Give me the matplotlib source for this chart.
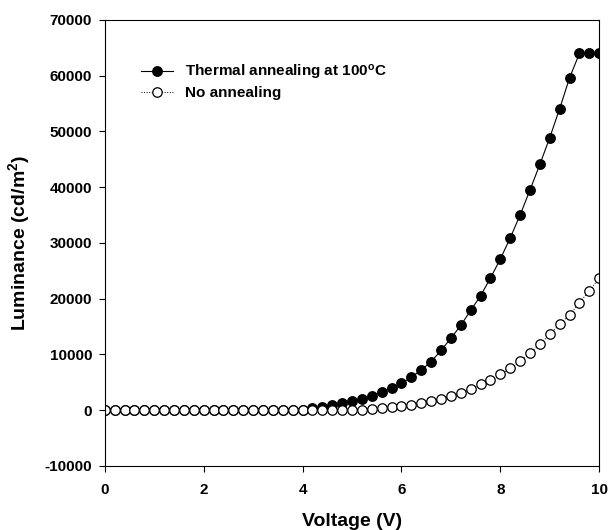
import numpy as np
import matplotlib
matplotlib.use('Agg')
import matplotlib.pyplot as plt

plt.rcParams['font.family'] = 'Liberation Sans'
plt.rcParams['font.weight'] = 'bold'
plt.rcParams['axes.unicode_minus'] = False
plt.rcParams['mathtext.fontset'] = 'custom'
plt.rcParams['mathtext.rm'] = 'Liberation Sans:bold'
plt.rcParams['mathtext.bf'] = 'Liberation Sans:bold'
plt.rcParams['mathtext.default'] = 'bf'

# Напряжение, шаг 0.2 В
voltage = [round(0.2 * i, 1) for i in range(51)]

# Яркость, с отжигом при 100 C (cd/m^2)
annealed = [0] * 20 + [
    100, 300, 600, 950, 1300, 1650, 2050, 2550, 3200, 3950,
    4800, 5900, 7200, 8700, 10700, 12900, 15200, 17900, 20500, 23700,
    27100, 30900, 35000, 39500, 44100, 48900, 54100, 59600, 64000, 64000,
    64000]

# Яркость, без отжига
no_anneal = [0] * 26 + [
    100, 250, 400, 550,
    750, 1000, 1250, 1600, 2000, 2500, 3050, 3750, 4600, 5400,
    6400, 7500, 8750, 10200, 11800, 13600, 15400, 17100, 19300, 21400,
    23700]

fig = plt.figure(figsize=(6.09, 5.30), dpi=100)
ax = fig.add_axes([0.172, 0.121, 0.812, 0.8415])

ax.plot(voltage, annealed, '-', color='black', linewidth=0.8,
        marker='o', markersize=6.8, markerfacecolor='black',
        markeredgecolor='black', label=r'Thermal annealing at 100$^{o}$C')
ax.plot(voltage, no_anneal, ':', color='black', linewidth=0.7,
        marker='o', markersize=6.8, markerfacecolor='white',
        markeredgecolor='black', markeredgewidth=0.9, label='No annealing')

ax.set_xlim(0, 10)
ax.set_ylim(-10000, 70000)
ax.set_xticks([0, 2, 4, 6, 8, 10])
ax.set_yticks(np.arange(-10000, 70001, 10000))
ax.tick_params(direction='out', length=4, width=0.8, labelsize=11, pad=5)
ax.tick_params(axis='x', pad=8)
for lbl in ax.get_xticklabels() + ax.get_yticklabels():
    lbl.set_fontweight('bold')
for s in ax.spines.values():
    s.set_linewidth(0.8)

ax.set_xlabel('Voltage (V)', fontsize=14, fontweight='bold', labelpad=12)
ax.set_ylabel(r'Luminance (cd/m$^{2}$)', fontsize=14, fontweight='bold', labelpad=9)

ax.legend(loc='upper left', bbox_to_anchor=(0.045, 0.935),
          frameon=False, handlelength=2.1, handletextpad=0.8,
          labelspacing=0.3, prop={'weight': 'bold', 'size': 11})

fig.savefig('out.png', dpi=100)
